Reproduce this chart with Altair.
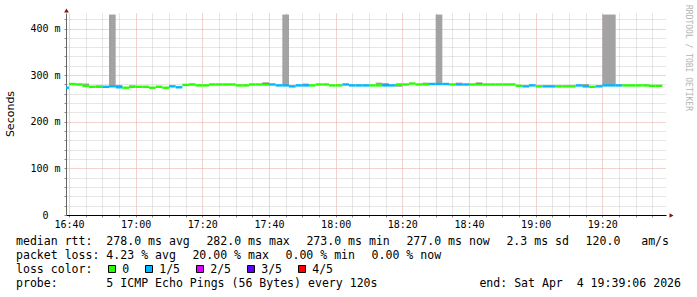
import json
import altair as alt
import pandas as pd

# ---------------- data ----------------
graph_start = "16:39:06"
graph_end = "19:39:06"
first_step_end = "16:40"
step_minutes = 2

median_ms = [
    273, 281, 280, 277, 275, 275, 275, 276, 274, 273,
    275, 275, 275, 273, 275, 273, 276, 274, 279, 280,
    278, 278, 280, 280, 280, 280, 278, 278, 280, 280,
    280, 280, 278, 278, 276, 278, 278, 278, 280, 280,
    278, 278, 280, 278, 278, 278, 278, 278, 278, 278,
    280, 280, 282, 280, 280, 281, 281, 281, 280, 280,
    280, 280, 280, 280, 280, 280, 280, 280, 277, 276,
    278, 276, 276, 276, 276, 276, 276, 278, 276, 275,
    276, 278, 278, 278, 278, 278, 278, 278, 277, 277,
]
lost_pings = [
    1, 0, 0, 0, 0, 0, 1, 1, 1, 0,
    0, 0, 0, 0, 0, 0, 1, 1, 0, 0,
    0, 0, 0, 0, 0, 0, 0, 0, 0, 0,
    0, 1, 1, 1, 1, 1, 1, 0, 0, 0,
    0, 0, 1, 1, 1, 1, 0, 0, 1, 1,
    0, 0, 0, 0, 0, 1, 1, 1, 0, 1,
    1, 0, 0, 0, 0, 0, 0, 0, 0, 1,
    1, 0, 1, 1, 0, 0, 0, 1, 1, 0,
    1, 1, 1, 1, 0, 0, 0, 0, 0, 0,
]
smoke_lo_ms = [
    273, 281, 280, 277, 275, 275, 275, 276, 274, 273,
    275, 275, 275, 273, 275, 273, 276, 274, 279, 280,
    278, 278, 280, 280, 280, 280, 278, 278, 280, 280,
    280, 280, 278, 278, 276, 278, 278, 278, 280, 280,
    278, 278, 280, 278, 278, 278, 278, 278, 278, 278,
    275, 280, 282, 280, 280, 281, 281, 281, 280, 280,
    280, 280, 280, 280, 280, 280, 280, 280, 277, 276,
    278, 276, 276, 276, 276, 276, 276, 278, 276, 275,
    276, 278, 278, 278, 278, 278, 278, 278, 277, 277,
]
smoke_hi_ms = [
    273, 281, 280, 282, 275, 278, 275, 430, 278, 273,
    278, 275, 275, 273, 275, 273, 276, 274, 279, 280,
    278, 278, 280, 280, 280, 280, 278, 278, 280, 280,
    284, 280, 278, 430, 276, 278, 282, 278, 280, 280,
    278, 278, 280, 278, 278, 278, 278, 284, 282, 278,
    280, 280, 282, 280, 284, 281, 430, 281, 280, 284,
    280, 280, 284, 280, 280, 280, 280, 280, 277, 276,
    278, 276, 276, 276, 276, 276, 276, 278, 281, 275,
    276, 430, 430, 278, 278, 278, 278, 278, 277, 277,
]
dark_smoke_steps = [8, 30, 48, 62]

loss_labels = ["0", "1/5", "2/5", "3/5", "4/5"]
loss_colors = ["#26ff00", "#00b8ff", "#dd00ff", "#5e00ff", "#ff0000"]

x_tick_labels = ["16:40", "17:00", "17:20", "17:40", "18:00",
                 "18:20", "18:40", "19:00", "19:20"]
y_tick_labels = ["0", "100 m", "200 m", "300 m", "400 m"]
y_max_ms = 433.3

legend_line1 = ["median rtt:  278.0 ms avg", "282.0 ms max", "273.0 ms min",
                "277.0 ms now", "2.3 ms sd", "120.0   am/s"]
legend_line2 = ["packet loss: 4.23 % avg", "20.00 % max", "0.00 % min", "0.00 % now"]
legend_line3_title = "loss color:"
probe_text = "probe:       5 ICMP Echo Pings (56 Bytes) every 120s"
end_text = "end: Sat Apr  4 19:39:06 2026"
watermark = "RRDTOOL / TOBI OETIKER"
y_title = "Seconds"

# ---------------- layout / style ----------------
OX, OY = 66, 13          # plot origin in page pixels
W, H = 600, 202
MONO = "DejaVu Sans Mono"
SANS = "DejaVu Sans"
MINOR = "#cdcdcd"
MAJOR = "#e6a5a5"
ARROW = "#801515"
SMOKE_LIGHT = "#a3a3a3"
SMOKE_DARK = "#575757"
LEG_SIZE = 11.55
line1_x = [16, 206.4, 306.4, 406.4, 506.4, 585.6]
line2_x = [16, 192.4, 285.5, 371.6]
legend_box_x = [108, 145, 196, 247, 298]
row_y = [245, 259, 273, 287]


def minutes(s):
    p = [int(v) for v in s.split(":")]
    return (p[0] - 16) * 60 + p[1] + (p[2] / 60 if len(p) > 2 else 0)


x0, x1 = minutes(graph_start), minutes(graph_end)
ends = [minutes(first_step_end) + step_minutes * i for i in range(len(median_ms))]
df = pd.DataFrame({
    "start": [e - step_minutes for e in ends],
    "end": ends,
    "median": median_ms,
    "loss": [loss_labels[n] for n in lost_pings],
    "lo": smoke_lo_ms,
    "hi": smoke_hi_ms,
    "shade": ["dark" if i in dark_smoke_steps else "light" for i in range(len(median_ms))],
})

x_scale = alt.Scale(domain=[x0, x1], nice=False, zero=False)
y_scale = alt.Scale(domain=[0, y_max_ms], nice=False, zero=True)

x_axis = alt.Axis(
    values=list(range(40, 216, 5)),
    labelExpr="datum.value % 20 == 0 ? " + json.dumps(x_tick_labels) + "[(datum.value - 40) / 20] : ''",
    title=None, grid=True,
    gridColor={"condition": {"test": "datum.value % 20 == 0", "value": MAJOR}, "value": MINOR},
    gridDash=[1, 1], gridWidth=1,
    domainColor="#000000", domainWidth=1,
    tickColor="#888888", tickSize=2,
    labelFont=MONO, labelFontSize=10, labelColor="#000000",
    labelPadding=10.7, labelBaseline="alphabetic",
    labelFlush=False, labelOverlap=False, labelAngle=0,
)
y_axis = alt.Axis(
    values=list(range(0, 421, 20)),
    labelExpr="datum.value % 100 == 0 ? " + json.dumps(y_tick_labels) + "[datum.value / 100] : ''",
    title=None, grid=True,
    gridColor={"condition": {"test": "datum.value % 100 == 0", "value": MAJOR}, "value": MINOR},
    gridDash=[1, 1], gridWidth=1,
    domainColor="#666666", domainWidth=1,
    tickColor="#888888", tickSize=2,
    labelFont=MONO, labelFontSize=10, labelColor="#000000",
    labelPadding={"condition": {"test": "datum.value == 0", "value": 16}, "value": 4},
    labelBaseline="middle", labelAlign="right",
    labelFlush=False, labelOverlap=False,
)


def X(f):
    return alt.X(f + ":Q", scale=x_scale, axis=x_axis)


def Y(f):
    return alt.Y(f + ":Q", scale=y_scale, axis=y_axis)


smoke = alt.Chart(df).mark_rect(clip=True).encode(
    x=X("start"), x2="end", y=Y("lo"), y2="hi",
    color=alt.condition("datum.shade == 'dark'", alt.value(SMOKE_DARK), alt.value(SMOKE_LIGHT)),
)
median_line = alt.Chart(df).mark_rule(strokeWidth=2.4, clip=True).encode(
    x=X("start"), x2="end", y=Y("median"),
    color=alt.Color("loss:N", scale=alt.Scale(domain=loss_labels, range=loss_colors), legend=None),
)


def txt(t, ax, ay, size=LEG_SIZE, font=MONO, align="left", baseline="alphabetic",
        angle=0, color="#000000"):
    return alt.Chart(pd.DataFrame({"t": [t.replace(" ", "\u00a0")]})).mark_text(
        align=align, baseline=baseline, font=font, fontSize=size, angle=angle, color=color
    ).encode(x=alt.value(ax - OX), y=alt.value(ay - OY), text="t:N")


layers = [smoke, median_line]

for s, px in zip(legend_line1, line1_x):
    layers.append(txt(s, px, row_y[0]))
for s, px in zip(legend_line2, line2_x):
    layers.append(txt(s, px, row_y[1]))
layers.append(txt(legend_line3_title, 16, row_y[2]))
for lab, col, bx in zip(loss_labels, loss_colors, legend_box_x):
    layers.append(
        alt.Chart(pd.DataFrame({"t": [lab]})).mark_rect(fill=col, stroke="#000000", strokeWidth=1).encode(
            x=alt.value(bx + 0.5 - OX), x2=alt.value(bx + 7.5 - OX),
            y=alt.value(265.5 - OY), y2=alt.value(272.5 - OY),
        )
    )
    layers.append(txt(lab, bx + 14.2, row_y[2]))
layers.append(txt(probe_text, 16, row_y[3]))
layers.append(txt(end_text, 681, row_y[3], align="right"))

layers.append(txt(y_title, 11, 114, size=11, font=SANS, align="center", baseline="middle", angle=270))
layers.append(txt(watermark, 688.3, 5, size=8, align="left", baseline="middle", angle=90, color="#b4b4b4"))

# axis arrows
layers.append(alt.Chart(pd.DataFrame({"a": [1]})).mark_point(
    shape="triangle-up", filled=True, size=22, color=ARROW, opacity=1
).encode(x=alt.value(0.5), y=alt.value(10.5 - OY)))
layers.append(alt.Chart(pd.DataFrame({"a": [1]})).mark_point(
    shape="triangle-right", filled=True, size=22, color=ARROW, opacity=1
).encode(x=alt.value(671.5 - OX), y=alt.value(215.5 - OY)))

chart = alt.layer(*layers).properties(
    width=W, height=H,
    padding={"left": OX, "top": OY, "right": 697 - OX - W, "bottom": 297 - OY - H},
    autosize=alt.AutoSizeParams(type="none"),
    background="white",
).configure_view(strokeWidth=0)

chart.save("out.html", embed_options={"renderer": "svg", "actions": False})
